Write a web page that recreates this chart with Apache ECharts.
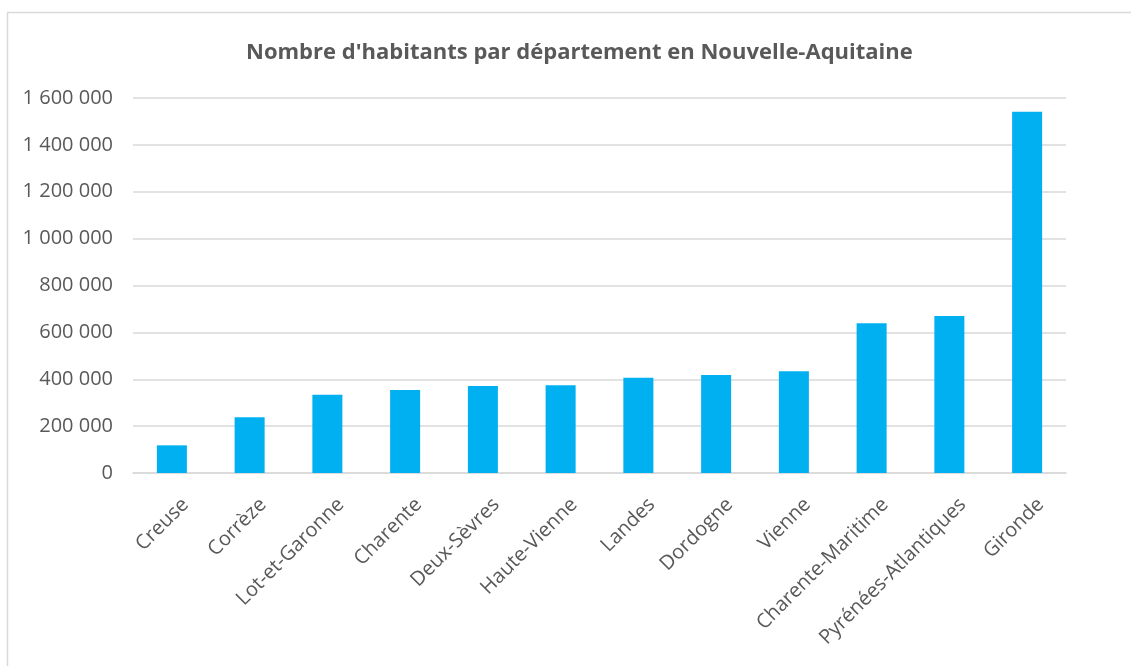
<!DOCTYPE html>
<html>
	<head>
		<meta charset="UTF-8">
		<title>index</title>
		<script src="https://cdn.jsdelivr.net/npm/echarts@6/dist/echarts.min.js"></script>
		<style>
			html, body { margin: 0; padding: 0; background: #fff; }
		</style>
	</head>
	<body>
		<div id="main" style="width:1131px;height:666px;"></div>
		<script>
			const departements = ['Creuse', 'Corrèze', 'Lot-et-Garonne', 'Charente', 'Deux-Sèvres', 'Haute-Vienne',
				'Landes', 'Dordogne', 'Vienne', 'Charente-Maritime', 'Pyrénées-Atlantiques', 'Gironde']
			const habitants = [118000, 238000, 334000, 354000, 371000, 374000,
				406000, 418000, 434000, 639000, 670000, 1541000]
			const titre = "Nombre d'habitants par département en Nouvelle-Aquitaine"

			// format "1 600 000"
			function espaces(v) {
				return String(v).replace(/\B(?=(\d{3})+(?!\d))/g, ' ')
			}

			let chart = echarts.init(document.getElementById('main'))
			chart.setOption({
				animation: false,
				textStyle: { fontFamily: 'Open Sans' },
				graphic: [{
					type: 'rect',
					shape: { x: 7.5, y: 12.5, width: 1200, height: 700 },
					style: { fill: 'none', stroke: '#d9d9d9', lineWidth: 1.5 },
					silent: true
				}],
				title: {
					text: titre,
					left: 241,
					top: 37,
					textStyle: { fontSize: 22, fontWeight: 'bold', color: '#595959', fontFamily: 'Open Sans' }
				},
				grid: { left: 133, right: 65, top: 98, bottom: 193 },
				xAxis: {
					type: 'category',
					data: departements,
					axisLine: { lineStyle: { color: '#d9d9d9', width: 1.5 } },
					axisTick: { show: false },
					axisLabel: {
						rotate: 45, fontSize: 20, color: '#595959', margin: 15, interval: 0,
						verticalAlign: 'top', padding: [9, 0, 0, 0]
					}
				},
				yAxis: {
					type: 'value',
					min: 0,
					max: 1600000,
					interval: 200000,
					axisLine: { show: false },
					axisTick: { show: false },
					splitLine: { lineStyle: { color: '#d9d9d9', width: 1.5 } },
					axisLabel: { fontSize: 20, color: '#595959', margin: 20, formatter: espaces }
				},
				series: [{
					type: 'bar',
					data: habitants,
					barWidth: '38.6%',
					itemStyle: { color: '#00b0f0' }
				}]
			})
		</script>
	</body>
</html>
